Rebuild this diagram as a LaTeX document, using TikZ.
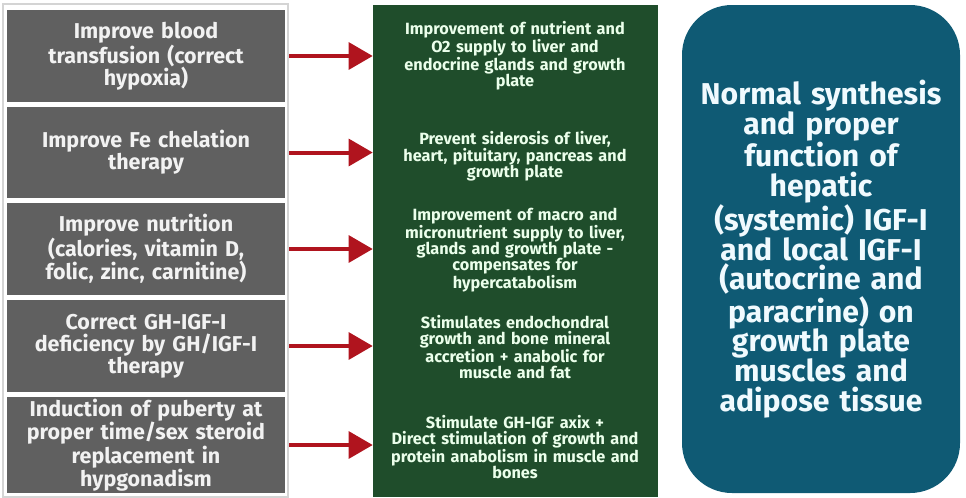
\documentclass[tikz,border=0pt]{standalone}
\usepackage{fontspec}
\setmainfont{Fira Sans}
\usetikzlibrary{arrows.meta}
\definecolor{boxgray}{HTML}{606060}
\definecolor{panelgreen}{HTML}{1F4D2B}
\definecolor{resultblue}{HTML}{0F5A74}
\definecolor{arrowred}{HTML}{B0141E}
\definecolor{framegray}{HTML}{D4D4D4}
\begin{document}
\begin{tikzpicture}[x=0.75pt,y=-0.75pt,
	measure/.style={fill=boxgray,text=white!95!black,font=\bfseries\fontsize{16.1}{16.5}\selectfont,
		align=center,minimum width=208.5pt,text width=205pt,inner sep=0pt},
	effect/.style={text=green!8!white,font=\bfseries\fontsize{12.2}{12}\selectfont,align=center,text width=212pt},
	arr/.style={-{Triangle[length=18pt,width=20pt]},line width=3pt,arrowred,shorten <=3pt}]
	\useasboundingbox (0,0) rectangle (966,497);
	% Frame of the left column
	\draw[framegray,line width=1.2pt] (3,4) rectangle (288,497);
	% Measures
	\node[measure,minimum height=69pt]   (box1) at (146,56)    {Improve blood\\transfusion (correct\\hypoxia)};
	\node[measure,minimum height=68.25pt] (box2) at (146,152.5) {Improve Fe chelation\\therapy};
	\node[measure,minimum height=69pt]   (box3) at (146,249)   {Improve nutrition\\(calories, vitamin D,\\folic, zinc, carnitine)};
	\node[measure,minimum height=69pt]   (box4) at (146,346)   {Correct GH-IGF-I\\deficiency by GH/IGF-I\\therapy};
	\node[measure,minimum height=72pt]   (box5) at (146,445)   {Induction of puberty at\\proper time/sex steroid\\replacement in\\hypgonadism};
	% Effects panel
	\node[fill=panelgreen,minimum width=213.75pt,minimum height=369pt,inner sep=0pt] (panel) at (515.5,251) {};
	\node[effect] (eff1) at (515,56)  {Improvement of nutrient and\\O2 supply to liver and\\endocrine glands and growth\\plate};
	\node[effect] (eff2) at (515,156) {Prevent siderosis of liver,\\heart, pituitary, pancreas and\\growth plate};
	\node[effect] (eff3) at (515,250) {Improvement of macro and\\micronutrient supply to liver,\\glands and growth plate -\\compensates for\\hypercatabolism};
	\node[effect] (eff4) at (515,347) {Stimulates endochondral\\growth and bone mineral\\accretion + anabolic for\\muscle and fat};
	\node[effect] (eff5) at (515,447) {Stimulate GH-IGF axix +\\Direct stimulation of growth and\\protein anabolism in muscle and\\bones};
	% Arrows
	\foreach \i in {1,...,5}
		\draw[arr] (box\i.east) -- (box\i.east -| panel.west);
	% Result
	\node[fill=resultblue,rounded corners=37.5pt,minimum width=208.5pt,minimum height=366pt,
		text=cyan!6!white,font=\bfseries\fontsize{22.6}{22.4}\selectfont,align=center,text width=205pt,inner sep=0pt]
		(result) at (821,249) {Normal synthesis\\and proper\\function of\\hepatic\\(systemic) IGF-I\\and local IGF-I\\(autocrine and\\paracrine) on\\growth plate\\muscles and\\adipose tissue};
\end{tikzpicture}
\end{document}
